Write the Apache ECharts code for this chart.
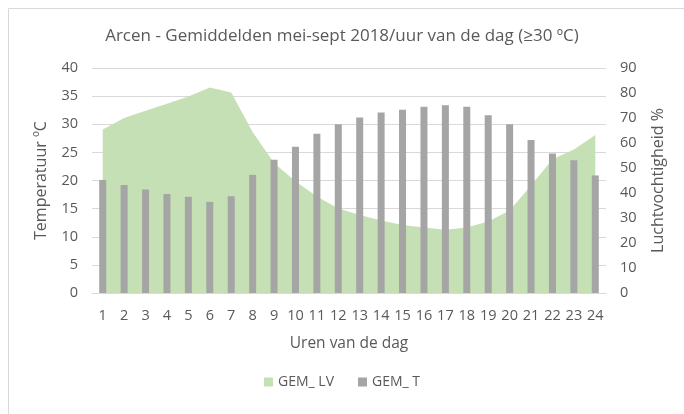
<!DOCTYPE html>
<html>
<head>
<meta charset="utf-8">
<script src="https://cdn.jsdelivr.net/npm/echarts@6/dist/echarts.min.js"></script>
<style>
  html, body { margin: 0; padding: 0; background: #fff; }
  #chart { width: 684px; height: 414px; }
</style>
</head>
<body>
<div id="chart"></div>
<script>
// uren van de dag
var hours = ['1','2','3','4','5','6','7','8','9','10','11','12','13','14','15','16','17','18','19','20','21','22','23','24'];
// luchtvochtigheid % (rechter as)
var gemLV = [65.4, 70, 72.9, 75.7, 78.6, 82.2, 80.2, 64.4, 52, 44.7, 38.6, 33.8, 31.2, 29, 27.2, 26.2, 25.3, 26.2, 28.6, 33, 43, 53.5, 57.4, 63.2];
// temperatuur ºC (linker as)
var gemT = [20.1, 19.2, 18.4, 17.6, 17.1, 16.2, 17.2, 21.0, 23.7, 26.0, 28.3, 30.0, 31.2, 32.1, 32.6, 33.1, 33.4, 33.1, 31.6, 30.0, 27.2, 24.8, 23.6, 20.9];

var txt = '#595959';
var font = '"Open Sans", "Liberation Sans", sans-serif';

var myChart = echarts.init(document.getElementById('chart'));
var option = {
  animation: false,
  textStyle: { fontFamily: font, color: txt },
  title: {
    text: 'Arcen - Gemiddelden mei-sept 2018/uur van de dag (\u226530 \u00baC)',
    left: 'center',
    top: 23,
    textStyle: { fontSize: 17, fontWeight: 'normal', color: txt, fontFamily: font }
  },
  legend: {
    data: ['GEM_ LV', 'GEM_ T'],
    bottom: 20,
    left: 'center',
    itemWidth: 9,
    itemHeight: 9,
    itemGap: 24,
    textStyle: { fontSize: 14, color: txt },
    icon: 'rect'
  },
  grid: { left: 92, right: 78, top: 68, bottom: 121, containLabel: false },
  xAxis: {
    type: 'category',
    data: hours,
    name: 'Uren van de dag',
    nameLocation: 'middle',
    nameGap: 43,
    nameTextStyle: { fontSize: 15.5, color: txt },
    axisLine: { lineStyle: { color: '#d9d9d9' } },
    axisTick: { show: false },
    axisLabel: { fontSize: 14.5, color: txt, margin: 15, interval: 0 }
  },
  yAxis: [
    {
      type: 'value',
      min: 0, max: 40, interval: 5,
      name: 'Temperatuur \u00baC',
      nameLocation: 'middle',
      nameGap: 43,
      nameTextStyle: { fontSize: 16, color: txt },
      axisLabel: { fontSize: 14.5, color: txt, margin: 14 },
      axisLine: { show: false },
      axisTick: { show: false },
      splitLine: { lineStyle: { color: '#d9d9d9' } }
    },
    {
      type: 'value',
      min: 0, max: 90, interval: 10,
      name: 'Luchtvochtigheid %',
      nameLocation: 'middle',
      nameGap: 44,
      nameTextStyle: { fontSize: 16, color: txt },
      axisLabel: { fontSize: 14.5, color: txt, margin: 14 },
      axisLine: { show: false },
      axisTick: { show: false },
      splitLine: { show: false }
    }
  ],
  series: [
    {
      name: 'GEM_ LV',
      type: 'line',
      yAxisIndex: 1,
      data: gemLV,
      showSymbol: false,
      lineStyle: { width: 0 },
      itemStyle: { color: '#c5e0b4' },
      areaStyle: { color: '#c5e0b4', opacity: 1 },
      z: 1
    },
    {
      name: 'GEM_ T',
      type: 'bar',
      yAxisIndex: 0,
      data: gemT,
      barWidth: 7,
      itemStyle: { color: '#a5a5a5' },
      z: 2
    }
  ],
  graphic: [{
    type: 'rect',
    shape: { x: 8.5, y: 8.5, width: 690, height: 420 },
    style: { fill: 'none', stroke: '#d9d9d9', lineWidth: 1 },
    silent: true
  }]
};
myChart.setOption(option);
window.addEventListener('resize', function () { myChart.resize(); });
</script>
</body>
</html>
